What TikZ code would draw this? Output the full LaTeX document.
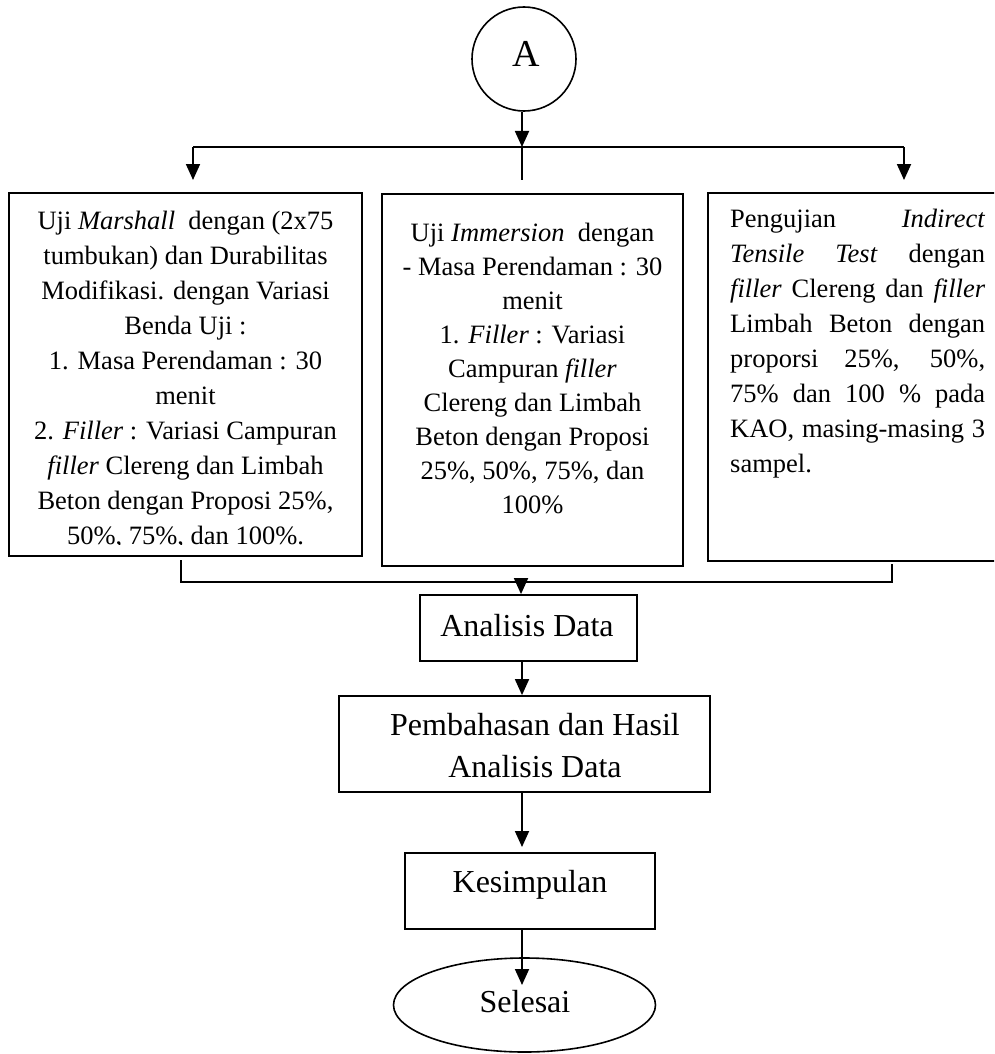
\documentclass[tikz,border=0pt]{standalone}
\usepackage{fontspec}
\setmainfont{Liberation Serif}
\usetikzlibrary{shapes.geometric,arrows.meta}
\begin{document}
\begin{tikzpicture}[x=1pt,y=-1pt,
  box/.style={draw, line width=1.8pt, rectangle, inner sep=0pt},
  txt/.style={inner sep=0pt, font=\fontsize{26.5}{35}\selectfont},
  txtm/.style={inner sep=0pt, font=\fontsize{26.5}{34}\selectfont},
  big/.style={inner sep=0pt, font=\fontsize{32}{42}\selectfont},
  conn/.style={line width=1.8pt},
  arr/.style={line width=1.8pt, -{Triangle[length=16pt,width=14pt]}}]
\clip (0,0) rectangle (994,1054);
% start connector circle
\node[draw, circle, line width=1.6pt, minimum size=104pt, inner sep=0pt] (A) at (524,59) {};
\node[inner sep=0pt, font=\fontsize{38}{40}\selectfont, anchor=base] (Atxt) at (526,67) {A};
% three boxes
\node[box, minimum width=353pt, minimum height=363pt] (b1) at (185.5,374.5) {};
\node[box, minimum width=301pt, minimum height=372pt] (b2) at (532.5,380) {};
\node[box, minimum width=302pt, minimum height=368pt] (b3) at (859,377) {};
\begin{scope}
\clip (b1.north west) rectangle ([yshift=12pt]b1.south east);
\node[txt, align=center, anchor=north] (t1) at (185.5,204.5) {\strut Uji \textit{Marshall} \ dengan (2x75\\
tumbukan) dan Durabilitas\\
Modifikasi. dengan Variasi\\
Benda Uji :\\
1. Masa Perendaman : 30\\
menit\\
2. \textit{Filler} : Variasi Campuran\\
\textit{filler} Clereng dan Limbah\\
Beton dengan Proposi 25\%,\\
50\%, 75\%, dan 100\%.};
\end{scope}
\node[txtm, align=center, anchor=north] (t2) at (532.5,217.2) {\strut Uji \textit{Immersion} \ dengan\\
- Masa Perendaman : 30\\
menit\\
1. \textit{Filler} : Variasi\\
Campuran \textit{filler}\\
Clereng dan Limbah\\
Beton dengan Proposi\\
25\%, 50\%, 75\%, dan\\
100\%};
\node[txt, align=left, anchor=north west] (t3) at (730,202.5) {\strut\makebox[255pt][s]{Pengujian \textit{Indirect}}\\
\makebox[255pt][s]{\textit{Tensile Test} dengan}\\
\makebox[255pt][s]{\textit{filler} Clereng dan \textit{filler}}\\
\makebox[255pt][s]{Limbah Beton dengan}\\
\makebox[255pt][s]{proporsi 25\%, 50\%,}\\
\makebox[255pt][s]{75\% dan 100 \% pada}\\
\makebox[255pt][s]{KAO, masing-masing 3}\\
sampel.};
% lower chain
\node[box, minimum width=217pt, minimum height=66pt] (b4) at (528.5,628) {};
\node[big, anchor=base] (t4) at (527,636) {Analisis Data};
\node[box, minimum width=371pt, minimum height=96pt] (b5) at (524.5,744) {};
\node[big, align=center, anchor=north] (t5) at (535,705.6) {\strut Pembahasan dan Hasil\\Analisis Data};
\node[box, minimum width=250pt, minimum height=76pt] (b6) at (530,891) {};
\node[big, anchor=base] (t6) at (530,892) {Kesimpulan};
\node[draw, ellipse, line width=1.6pt, minimum width=262pt, minimum height=94pt, inner sep=0pt] (b7) at (524.5,1005) {};
\node[big, anchor=base] (t7) at (525,1012) {Selesai};
% top distribution
\coordinate (jL) at (193,147);
\coordinate (jR) at (904,147);
\coordinate (jM) at (522,147);
\coordinate (eL) at (193,180);
\coordinate (eR) at (904,180);
\coordinate (eM) at (522,180);
\draw[arr] (A.south -| jM) -- (jM);
\draw[conn] (jL) -- (jR);
\draw[arr] (jL) -- (eL);
\draw[arr] (jR) -- (eR);
\draw[conn] (jM) -- (eM);
% bottom collection
\coordinate (cL1) at (181,560);
\coordinate (cL2) at (181,582);
\coordinate (cR1) at (892,564);
\coordinate (cR2) at (892,582);
\coordinate (cM) at (521,582);
\draw[conn] (cL1) -- (cL2) -- (cR2) -- (cR1);
\draw[arr] (cM) -- (cM |- b4.north);
% chain arrows
\coordinate (ax) at (522,0);
\coordinate (e6) at (522,847);
\coordinate (e7) at (522,985);
\draw[arr] (b4.south -| ax) -- (b5.north -| ax);
\draw[arr] (b5.south -| ax) -- (e6);
\draw[arr] (b6.south -| ax) -- (e7);
\end{tikzpicture}
\end{document}
